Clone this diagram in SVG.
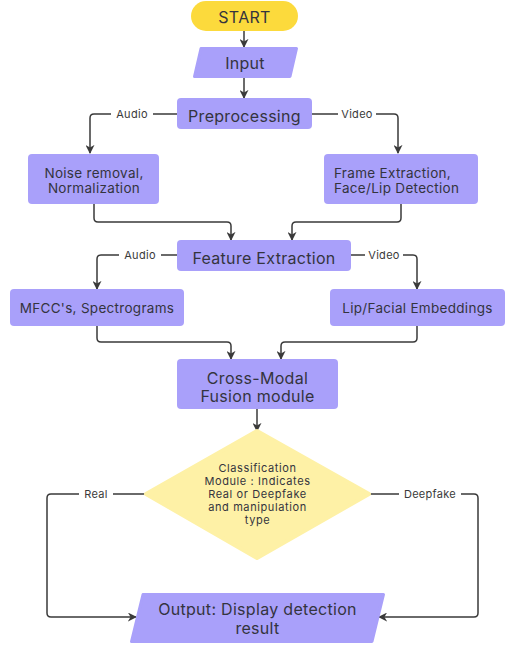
<svg xmlns="http://www.w3.org/2000/svg" width="514" height="653" viewBox="0 0 514 653">
<defs>
<marker id="ah" viewBox="0 0 10 10" refX="9" refY="5" markerWidth="9" markerHeight="9" markerUnits="userSpaceOnUse" orient="auto">
<path d="M0 0 L10 5 L0 10 L3 5 Z" fill="#3a3a3a"/>
</marker>
</defs>
<style>
.box{fill:#A9A0FA;stroke:#A9A0FA;stroke-linejoin:round;stroke-width:3}
.t{font-family:Inter,"Liberation Sans",sans-serif;fill:#34343e;text-anchor:middle;dominant-baseline:central}
.big{font-size:16px;letter-spacing:0.3px}
.mid{font-size:13.5px;letter-spacing:0.3px}
.sm{font-size:11px;letter-spacing:0.6px}
.lbl{font-family:Inter,"Liberation Sans",sans-serif;font-size:11px;letter-spacing:0.3px;fill:#3a3a3a;text-anchor:middle;dominant-baseline:central}
.c{fill:none;stroke:#3a3a3a;stroke-width:1.5}
</style>
<rect width="514" height="653" fill="#ffffff"/>
<g id="connectors">
<path class="c" d="M244 31 V47" marker-end="url(#ah)"/>
<path class="c" d="M244 78 V98" marker-end="url(#ah)"/>
<path class="c" d="M177 114 H94 Q90 114 90 118 V153" marker-end="url(#ah)"/>
<path class="c" d="M312 114 H394 Q398 114 398 118 V153" marker-end="url(#ah)"/>
<path class="c" d="M94 204 V218 Q94 222 98 222 H227 Q231 222 231 226 V240" marker-end="url(#ah)"/>
<path class="c" d="M401 204 V218 Q401 222 397 222 H296 Q292 222 292 226 V240" marker-end="url(#ah)"/>
<path class="c" d="M177 255 H101 Q97 255 97 259 V289" marker-end="url(#ah)"/>
<path class="c" d="M351 255 H413 Q417 255 417 259 V289" marker-end="url(#ah)"/>
<path class="c" d="M97 326 V338 Q97 342 101 342 H227 Q231 342 231 346 V359" marker-end="url(#ah)"/>
<path class="c" d="M417 326 V338 Q417 342 413 342 H285 Q281 342 281 346 V359" marker-end="url(#ah)"/>
<path class="c" d="M257 409 V431" marker-end="url(#ah)"/>
<path class="c" d="M146 494 H51 Q47 494 47 498 V613 Q47 617 51 617 H136" marker-end="url(#ah)"/>
<path class="c" d="M369 494 H474 Q478 494 478 498 V613 Q478 617 474 617 H379" marker-end="url(#ah)"/>
<rect x="111" y="107" width="42" height="14" fill="#fff"/>
<text class="lbl" x="132" y="114">Audio</text>
<rect x="338" y="107" width="38" height="14" fill="#fff"/>
<text class="lbl" x="357" y="114">Video</text>
<rect x="119" y="248" width="42" height="14" fill="#fff"/>
<text class="lbl" x="140" y="255">Audio</text>
<rect x="365" y="248" width="38" height="14" fill="#fff"/>
<text class="lbl" x="384" y="255">Video</text>
<rect x="79" y="487" width="34" height="14" fill="#fff"/>
<text class="lbl" x="96" y="494">Real</text>
<rect x="399" y="487" width="62" height="14" fill="#fff"/>
<text class="lbl" x="430" y="494">Deepfake</text>
</g>
<g id="start">
<rect x="191" y="1" width="107" height="30" rx="15" fill="#FCDA3C"/>
<text class="t big" x="244.5" y="16.5">START</text>
</g>
<g id="input">
<polygon class="box" points="201,48.5 296.5,48.5 290,76.5 194.5,76.5"/>
<text class="t big" x="245" y="63">Input</text>
</g>
<g id="preprocessing">
<rect x="177" y="98" width="135" height="31" rx="4" fill="#A9A0FA"/>
<text class="t big" x="244.5" y="116">Preprocessing</text>
</g>
<g id="noise">
<rect x="28" y="154" width="131" height="50" rx="4" fill="#A9A0FA"/>
<text class="t mid" x="94" y="173">Noise removal,</text>
<text class="t mid" x="94" y="188">Normalization</text>
</g>
<g id="frame">
<rect x="324" y="154" width="154" height="50" rx="4" fill="#A9A0FA"/>
<text class="t mid" x="334" y="173" style="text-anchor:start">Frame Extraction,</text>
<text class="t mid" x="334" y="188" style="text-anchor:start">Face/Lip Detection</text>
</g>
<g id="feature">
<rect x="177" y="240" width="174" height="31" rx="4" fill="#A9A0FA"/>
<text class="t big" x="264" y="258">Feature Extraction</text>
</g>
<g id="mfcc">
<rect x="10" y="289" width="174" height="37" rx="4" fill="#A9A0FA"/>
<text class="t mid" x="97" y="308">MFCC's, Spectrograms</text>
</g>
<g id="lip">
<rect x="330" y="289" width="175" height="37" rx="4" fill="#A9A0FA"/>
<text class="t mid" x="417.5" y="308">Lip/Facial Embeddings</text>
</g>
<g id="fusion">
<rect x="177" y="359" width="161" height="50" rx="4" fill="#A9A0FA"/>
<text class="t big" x="257.5" y="378">Cross-Modal</text>
<text class="t big" x="257.5" y="396">Fusion module</text>
</g>
<g id="classification">
<path d="M257 431 L369 494 L257 558 L146 494 Z" fill="#FEF1A6" stroke="#FEF1A6" stroke-width="4" stroke-linejoin="round"/>
<text class="t sm" x="257.5" y="468">Classification</text>
<text class="t sm" x="257.5" y="481">Module : Indicates</text>
<text class="t sm" x="257.5" y="494">Real or Deepfake</text>
<text class="t sm" x="257.5" y="507">and manipulation</text>
<text class="t sm" x="257.5" y="520">type</text>
</g>
<g id="output">
<polygon class="box" points="143,594.5 383.5,594.5 372,641.5 131.5,641.5"/>
<text class="t big" x="257.5" y="609">Output: Display detection</text>
<text class="t big" x="257.5" y="628">result</text>
</g>
</svg>
